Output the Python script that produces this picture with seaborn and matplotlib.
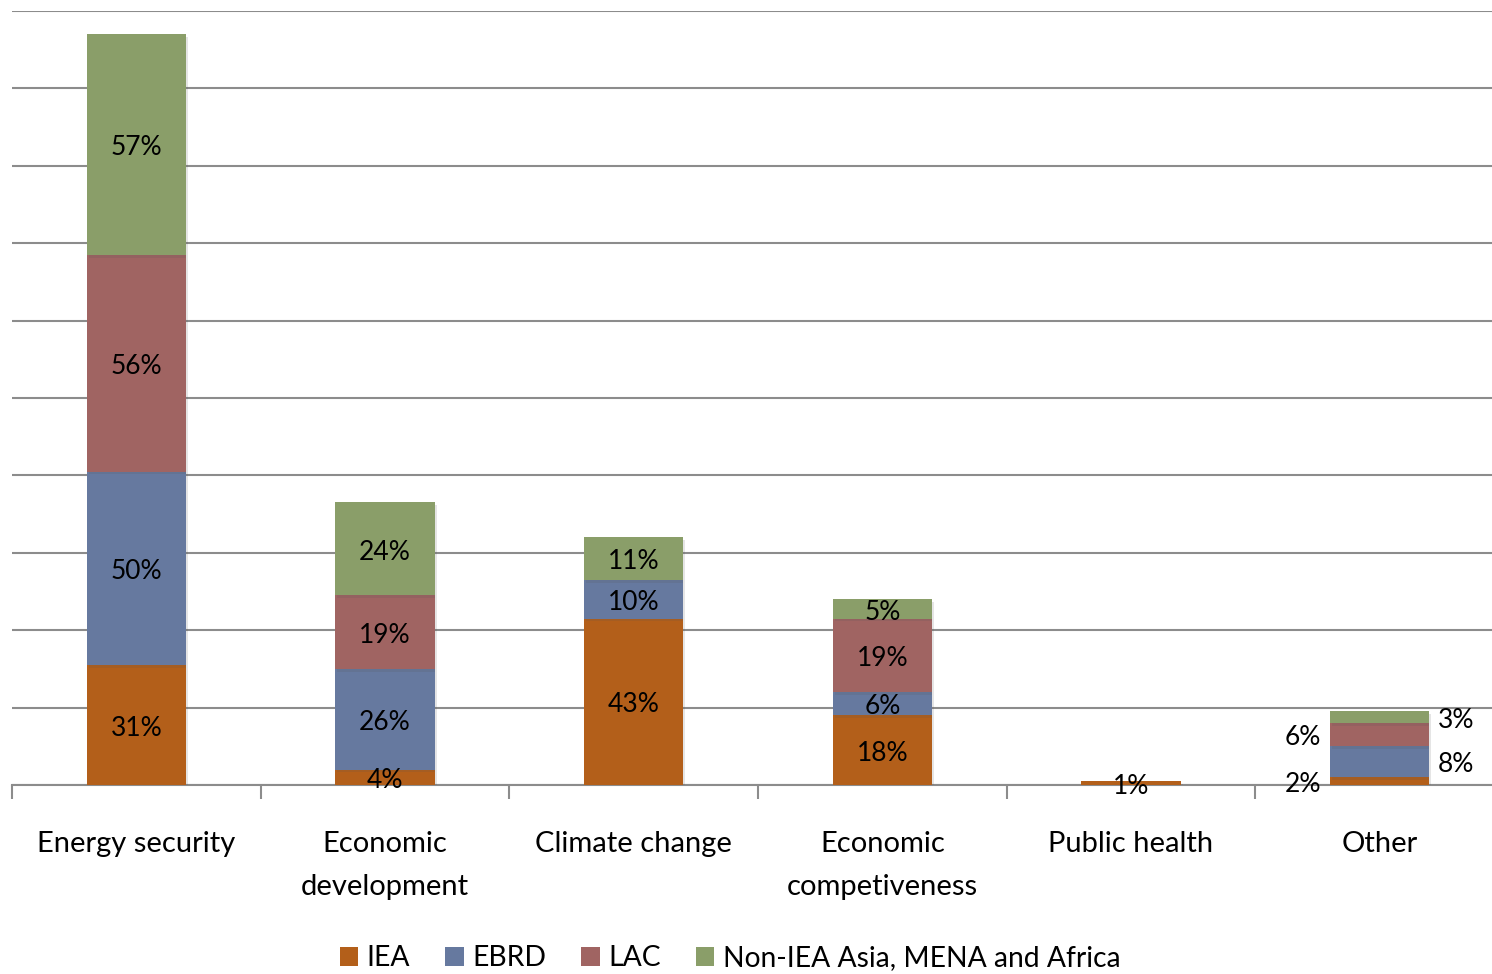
import numpy as np
import pandas as pd
import matplotlib
matplotlib.use("Agg")
import matplotlib.pyplot as plt
import matplotlib.patheffects as pe
from matplotlib.patches import Patch
import seaborn as sns

# Share of respondents citing each driver, by region group (%)
categories = ["Energy security", "Economic\ndevelopment", "Climate change",
              "Economic\ncompetiveness", "Public health", "Other"]
series_names = ["IEA", "EBRD", "LAC", "Non-IEA Asia, MENA and Africa"]
iea = [31, 4, 43, 18, 1, 2]
ebrd = [50, 26, 10, 6, 0, 8]
lac = [56, 19, 0, 19, 0, 6]
non_iea = [57, 24, 11, 5, 0, 3]
colors = ["#B35F1A", "#66799F", "#A06462", "#8A9E69"]

sns.set_theme(style="white")
plt.rcParams["font.family"] = ["Lato", "DejaVu Sans"]
plt.rcParams["text.color"] = "black"
plt.rcParams["xtick.color"] = "black"

fig = plt.figure(figsize=(14.92, 9.74), dpi=100)
# plot area runs slightly past the right edge of the canvas
ax = fig.add_axes([12 / 1492, 1 - 785 / 974, (1504 - 12) / 1492, (785 - 11) / 974])

all_series = [iea, ebrd, lac, non_iea]
bottom = np.zeros(len(categories))
shadow = [pe.SimplePatchShadow(offset=(1.5, -2), alpha=0.15, shadow_rgbFace="#555555"), pe.Normal()]
segments = []
for name, vals, col in zip(series_names, all_series, colors):
    df = pd.DataFrame({"category": categories, "value": vals})
    sns.barplot(data=df, x="category", y="value", order=categories, color=col,
                width=0.4, bottom=bottom.copy(), errorbar=None, ax=ax,
                saturation=1, linewidth=0, zorder=3)
    segments.append((vals, bottom.copy()))
    bottom = bottom + np.array(vals)

for p in ax.patches:
    p.set_path_effects(shadow)

# value labels at segment centres; the last category puts them beside the bar
label_size = 19
side = {0: "left", 1: "right", 2: "left", 3: "right"}
for si, (vals, base) in enumerate(segments):
    for ci, v in enumerate(vals):
        if v == 0:
            continue
        yc = base[ci] + v / 2 - 0.8
        if ci == len(categories) - 1:
            if side[si] == "left":
                ax.text(ci - 0.235, yc, f"{v}%", ha="right", va="center",
                        fontsize=label_size, color="black", zorder=5)
            else:
                ax.text(ci + 0.235, yc, f"{v}%", ha="left", va="center",
                        fontsize=label_size, color="black", zorder=5)
        else:
            ax.text(ci, yc, f"{v}%", ha="center", va="center",
                    fontsize=label_size, color="black", zorder=5)

ax.set_xlim(-0.5, len(categories) - 0.5)
ax.set_ylim(0, 200)
ax.set_yticks(np.arange(0, 201, 20))
ax.set_yticklabels([])
ax.tick_params(axis="y", length=0, left=False)
ax.grid(axis="y", color="#8C8C8C", linewidth=1.5, zorder=0)
ax.grid(axis="x", visible=False)
ax.set_axisbelow(True)
for s in ["left", "top", "right"]:
    ax.spines[s].set_visible(False)
ax.spines["bottom"].set_color("#8C8C8C")
ax.spines["bottom"].set_linewidth(1.5)

ax.set_xticks(np.arange(len(categories)))
ax.set_xticklabels(categories, fontsize=21, linespacing=1.83, color="black")
ax.set_xticks(np.arange(-0.5, len(categories)), minor=True)
ax.tick_params(axis="x", which="major", length=0, pad=33, bottom=True)
ax.tick_params(axis="x", which="minor", length=10, width=1.5, color="#8C8C8C",
               direction="out", bottom=True)
ax.set_xlabel("")
ax.set_ylabel("")

handles = [Patch(facecolor=c, edgecolor="none") for c in colors]
fig.legend(handles, series_names, loc="center", bbox_to_anchor=(730 / 1492, 1 - 958 / 974),
           ncol=4, frameon=False, fontsize=20.3, handlelength=0.65, handleheight=0.65,
           handletextpad=0.3, columnspacing=1.25, borderpad=0, borderaxespad=0)

fig.savefig("out.png", dpi=100)
